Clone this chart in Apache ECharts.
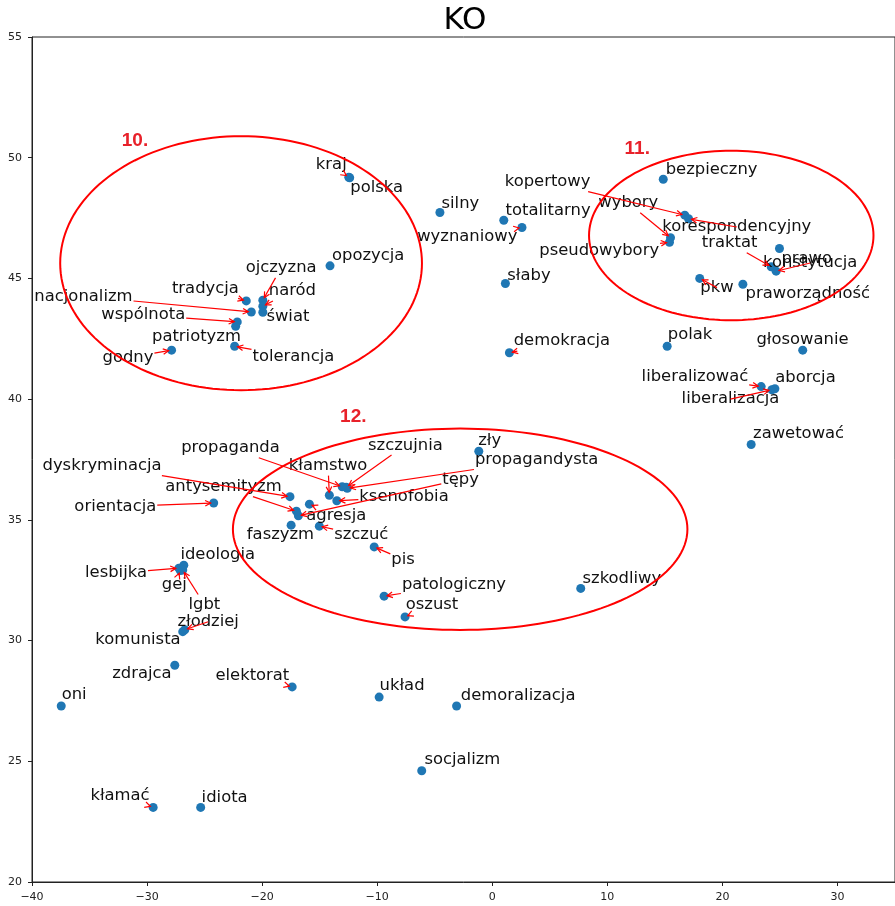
<!DOCTYPE html>
<html>
<head>
<meta charset="utf-8">
<title>KO</title>
<script src="https://cdn.jsdelivr.net/npm/echarts@6/dist/echarts.min.js"></script>
<style>
  html, body { margin: 0; padding: 0; background: #fff; }
  #chart { width: 895px; height: 906px; }
</style>
</head>
<body>
<div id="chart"></div>
<script>
// words and their 2d positions
var words = [
    'kraj', 'polska', 'silny', 'opozycja', 'ojczyzna', 'naród', 'świat', 'tradycja',
    'nacjonalizm', 'wspólnota', 'patriotyzm', 'godny', 'tolerancja', 'totalitarny', 'wyznaniowy', 'słaby',
    'bezpieczny', 'kopertowy', 'korespondencyjny', 'wybory', 'pseudowybory', 'traktat', 'konstytucja', 'prawo',
    'pkw', 'praworządność', 'demokracja', 'polak', 'głosowanie', 'liberalizować', 'liberalizacja', 'aborcja',
    'zawetować', 'zły', 'propagandysta', 'szczujnia', 'propaganda', 'kłamstwo', 'ksenofobia', 'tępy',
    'dyskryminacja', 'orientacja', 'agresja', 'antysemityzm', 'faszyzm', 'szczuć', 'pis', 'ideologia',
    'lesbijka', 'gej', 'lgbt', 'złodziej', 'komunista', 'zdrajca', 'oni', 'elektorat',
    'układ', 'socjalizm', 'kłamać', 'idiota', 'patologiczny', 'oszust', 'szkodliwy', 'demoralizacja'
];
var pointX = [
    -12.47, -12.39, -4.55, -14.10, -19.94, -19.94, -19.94, -21.38,
    -20.94, -22.16, -22.30, -27.87, -22.39, 1.00, 2.58, 1.14,
    14.86, 16.73, 17.06, 15.49, 15.40, 24.24, 24.67, 24.96,
    18.03, 21.78, 1.49, 15.20, 26.98, 23.37, 24.30, 24.56,
    22.50, -1.17, -12.60, -12.69, -13.04, -14.16, -13.51, -16.85,
    -17.58, -24.21, -15.89, -17.02, -17.48, -15.03, -10.26, -26.81,
    -27.24, -27.11, -26.90, -26.72, -26.90, -27.59, -37.46, -17.39,
    -9.83, -6.13, -29.47, -25.34, -9.40, -7.58, 7.69, -3.10
];
var pointY = [
    49.19, 49.17, 47.73, 45.52, 44.10, 43.85, 43.60, 44.07,
    43.61, 43.20, 43.02, 42.03, 42.19, 47.41, 47.11, 44.79,
    49.11, 47.62, 47.47, 46.69, 46.50, 45.48, 45.30, 46.24,
    45.00, 44.76, 41.92, 42.19, 42.03, 40.52, 40.39, 40.43,
    38.12, 37.84, 36.31, 36.35, 36.37, 36.02, 35.79, 35.17,
    35.96, 35.70, 35.65, 35.36, 34.78, 34.74, 33.88, 33.12,
    33.00, 32.90, 32.92, 30.45, 30.37, 28.98, 27.29, 28.08,
    27.66, 24.61, 23.09, 23.09, 31.84, 30.98, 32.16, 27.29
];
// where each word's label was placed (centre of the text)
var labelX = [
    -13.99, -10.05, -2.77, -10.78, -18.35, -17.37, -17.76, -24.93,
    -35.53, -30.33, -25.71, -31.66, -17.28, 4.85, -2.17, 3.19,
    19.06, 4.81, 21.25, 11.82, 9.29, 20.63, 27.63, 27.33,
    19.53, 27.42, 6.05, 17.19, 26.96, 17.61, 20.70, 27.22,
    26.62, -0.22, 3.85, -7.55, -22.75, -14.27, -7.67, -2.75,
    -33.91, -32.76, -13.56, -23.36, -18.41, -11.39, -7.75, -23.86,
    -32.70, -27.63, -25.02, -24.69, -30.79, -30.45, -36.34, -20.85,
    -7.84, -2.60, -32.35, -23.26, -3.33, -5.24, 11.26, 2.25
];
var labelY = [
    49.69, 48.76, 48.11, 45.96, 45.43, 44.47, 43.41, 44.58,
    44.26, 43.48, 42.58, 41.72, 41.75, 47.80, 46.71, 45.13,
    49.51, 49.00, 47.13, 48.13, 46.14, 46.47, 45.64, 45.82,
    44.62, 44.37, 42.40, 42.65, 42.47, 40.92, 40.00, 40.88,
    38.55, 38.27, 37.47, 38.09, 37.98, 37.24, 35.94, 36.67,
    37.24, 35.54, 35.15, 36.37, 34.37, 34.37, 33.36, 33.54,
    32.79, 32.30, 31.50, 30.78, 30.02, 28.61, 27.74, 28.54,
    28.11, 25.05, 23.56, 23.50, 32.30, 31.47, 32.57, 27.70
];

// circled groups
var groupNames = ['10.', '11.', '12.'];
var groupCx = [-21.83, 20.77, -2.79];
var groupCy = [45.63, 46.78, 34.61];
var groupRx = [15.72, 12.36, 19.75];
var groupRy = [5.26, 3.51, 4.17];
var groupTagX = [-31.05, 12.6, -12.08];
var groupTagY = [50.72, 50.39, 39.25];

var LABEL_FONT = '16.4px "DejaVu Sans"';
var LABEL_SIZE = 16.4;

var measureCtx = document.createElement('canvas').getContext('2d');
measureCtx.font = LABEL_FONT;
function textWidth(s) {
    return measureCtx.measureText(s).width;
}

function minusFmt(v) {
    return v < 0 ? '\u2212' + (-v) : String(v);
}

var myChart = echarts.init(document.getElementById('chart'), null, { renderer: 'canvas' });

// arrow from the edge of the label box to the point
function renderArrow(params, api) {
    var i = params.dataIndex;
    var p = api.coord([api.value(0), api.value(1)]);
    var c = api.coord([api.value(2), api.value(3)]);
    var hw = textWidth(words[i]) / 2 + 1;
    var hh = LABEL_SIZE * 0.6;
    var dx = p[0] - c[0], dy = p[1] - c[1];
    var start = c;
    if (Math.abs(dx) > hw || Math.abs(dy) > hh) {
        var tx = dx !== 0 ? hw / Math.abs(dx) : Infinity;
        var ty = dy !== 0 ? hh / Math.abs(dy) : Infinity;
        var t = Math.min(tx, ty);
        start = [c[0] + dx * t, c[1] + dy * t];
    }
    var lx = p[0] - start[0], ly = p[1] - start[1];
    var len = Math.sqrt(lx * lx + ly * ly);
    if (len < 3.5) return null;
    var ux = lx / len, uy = ly / len;
    var end = [p[0] - ux * 3, p[1] - uy * 3];
    var back = [end[0] - ux * 5.5, end[1] - uy * 5.5];
    var w1 = [back[0] - uy * 2.8, back[1] + ux * 2.8];
    var w2 = [back[0] + uy * 2.8, back[1] - ux * 2.8];
    var st = { stroke: '#ff0000', lineWidth: 1.2, fill: null };
    return {
        type: 'group',
        children: [
            { type: 'polyline', shape: { points: [start, end] }, style: st },
            { type: 'polyline', shape: { points: [w1, end, w2] }, style: st }
        ]
    };
}

function renderLabel(params, api) {
    var c = api.coord([api.value(2), api.value(3)]);
    return {
        type: 'text',
        x: c[0],
        y: c[1],
        style: {
            text: words[params.dataIndex],
            font: LABEL_FONT,
            fill: '#111',
            align: 'center',
            verticalAlign: 'middle'
        }
    };
}

function renderGroup(params, api) {
    var i = params.dataIndex;
    var pts = [];
    for (var k = 0; k <= 160; k++) {
        var a = (k / 160) * Math.PI * 2;
        pts.push(api.coord([groupCx[i] + groupRx[i] * Math.cos(a), groupCy[i] + groupRy[i] * Math.sin(a)]));
    }
    var tag = api.coord([groupTagX[i], groupTagY[i]]);
    return {
        type: 'group',
        children: [
            { type: 'polyline', shape: { points: pts }, style: { stroke: '#ff0000', lineWidth: 2, fill: null } },
            {
                type: 'text', x: tag[0], y: tag[1],
                style: {
                    text: groupNames[i],
                    font: 'bold 19px "Liberation Sans"',
                    fill: '#e8212a',
                    align: 'center',
                    verticalAlign: 'middle'
                }
            }
        ]
    };
}

var wordData = words.map(function (w, i) {
    return [pointX[i], pointY[i], labelX[i], labelY[i]];
});

var option = {
    animation: false,
    title: {
        text: 'KO',
        left: 460,
        textAlign: 'center',
        top: 0,
        textStyle: { fontFamily: 'DejaVu Sans', fontSize: 31, fontWeight: 'normal', color: '#000' }
    },
    grid: {
        left: 32,
        right: -3,
        top: 37,
        bottom: 24,
        show: true,
        borderColor: '#222',
        borderWidth: 1,
        backgroundColor: 'transparent'
    },
    xAxis: {
        type: 'value',
        min: -40,
        max: 35,
        interval: 10,
        axisLine: { show: true, onZero: false, lineStyle: { color: '#222', width: 1 } },
        axisTick: { show: true, inside: false, length: 4, lineStyle: { color: '#222' } },
        axisLabel: { showMaxLabel: false, formatter: minusFmt, fontFamily: 'DejaVu Sans', fontSize: 11, color: '#222', margin: 10 },
        splitLine: { show: false }
    },
    yAxis: {
        type: 'value',
        min: 20,
        max: 55,
        interval: 5,
        axisLine: { show: true, onZero: false, lineStyle: { color: '#222', width: 1 } },
        axisTick: { show: true, inside: false, length: 4, lineStyle: { color: '#222' } },
        axisLabel: { formatter: minusFmt, fontFamily: 'DejaVu Sans', fontSize: 11, color: '#222', margin: 10 },
        splitLine: { show: false }
    },
    series: [
        {
            type: 'scatter',
            data: words.map(function (w, i) { return [pointX[i], pointY[i]]; }),
            symbolSize: 9,
            itemStyle: { color: '#1f77b4', opacity: 1 },
            emphasis: { disabled: true },
            z: 2
        },
        {
            type: 'custom',
            renderItem: renderLabel,
            data: wordData,
            encode: { x: 2, y: 3 },
            silent: true,
            z: 3
        },
        {
            type: 'custom',
            renderItem: renderArrow,
            data: wordData,
            encode: { x: 0, y: 1 },
            silent: true,
            z: 4
        },
        {
            type: 'custom',
            renderItem: renderGroup,
            data: groupNames.map(function (g, i) { return [groupCx[i], groupCy[i]]; }),
            encode: { x: 0, y: 1 },
            silent: true,
            clip: false,
            z: 5
        }
    ]
};

myChart.setOption(option);
</script>
</body>
</html>
